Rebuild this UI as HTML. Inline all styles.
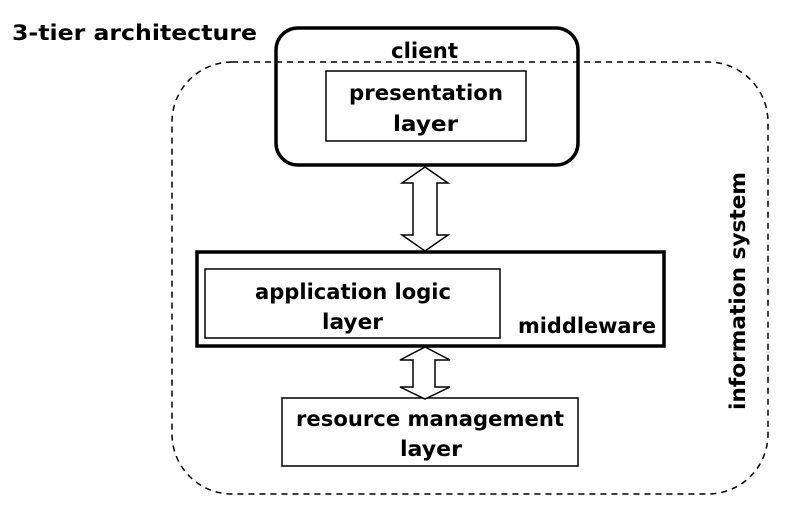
<!DOCTYPE html>
<html><head><style>body{margin:0;background:#fff}</style></head><body>
<svg width="796" height="507" xmlns="http://www.w3.org/2000/svg" style="display:block">
<g font-family="'DejaVu Sans','Liberation Sans',sans-serif" font-size="21" font-weight="bold" fill="#000">
<rect x="276" y="28" width="302" height="137" rx="22" fill="#fff" stroke="#000" stroke-width="3.5"/>
<rect x="172" y="62" width="596" height="432" rx="60" fill="none" stroke="#000" stroke-width="1.5" stroke-dasharray="6,5"/>
<rect x="326" y="71" width="200" height="70" fill="#fff" stroke="#000" stroke-width="1.5"/>
<rect x="197" y="252" width="467" height="94" fill="#fff" stroke="#000" stroke-width="3.5"/>
<rect x="205" y="269" width="295" height="69" fill="#fff" stroke="#000" stroke-width="1.5"/>
<rect x="282" y="398" width="296" height="68" fill="#fff" stroke="#000" stroke-width="1.5"/>
<polygon points="425,167 448,183 437,183 437,235 448,235 425,251 402,235 413,235 413,183 402,183" fill="#fff" stroke="#000" stroke-width="1.5"/>
<polygon points="425,347 450,360 435,360 435,387 450,387 425,399 400,387 413,387 413,360 400,360" fill="#fff" stroke="#000" stroke-width="1.5"/>
<text x="12" y="40" textLength="245" lengthAdjust="spacingAndGlyphs">3-tier architecture</text>
<text x="391" y="58" textLength="67" lengthAdjust="spacingAndGlyphs">client</text>
<text x="349" y="100" textLength="154" lengthAdjust="spacingAndGlyphs">presentation</text>
<text x="393" y="131" textLength="65" lengthAdjust="spacingAndGlyphs">layer</text>
<text x="255" y="299" textLength="196" lengthAdjust="spacingAndGlyphs">application logic</text>
<text x="322" y="329" textLength="61" lengthAdjust="spacingAndGlyphs">layer</text>
<text x="518" y="333" textLength="138" lengthAdjust="spacingAndGlyphs">middleware</text>
<text x="296" y="426" textLength="268" lengthAdjust="spacingAndGlyphs">resource management</text>
<text x="400" y="456" textLength="62" lengthAdjust="spacingAndGlyphs">layer</text>
<text transform="translate(745,410) rotate(-90)" textLength="238" lengthAdjust="spacingAndGlyphs">information system</text>
</g>
</svg>
</body></html>
